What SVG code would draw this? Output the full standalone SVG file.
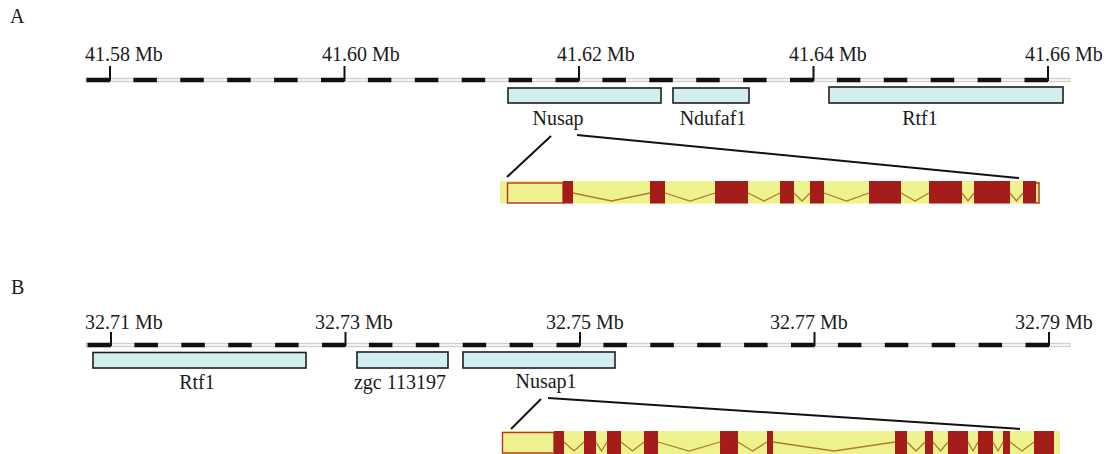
<svg xmlns="http://www.w3.org/2000/svg" width="1110" height="454" viewBox="0 0 1110 454">
<style>
text{font-family:"Liberation Serif","Times New Roman",serif;font-size:20px;fill:#1a1a1a}
.mid{text-anchor:middle}
.track{fill:#f4f4ea;stroke:#bdbdbd;stroke-width:0.8}
.dash{stroke:#111;stroke-width:4.5;stroke-dasharray:23.5 23.4;fill:none}
.tick{stroke:#111;stroke-width:2}
.gene{fill:#d2eef0;stroke:#1f1f1f;stroke-width:1.6}
.zoom{stroke:#111;stroke-width:2;fill:none}
.band{fill:#eef28e}
.exon{fill:#a51d1a}
.utr{fill:none;stroke:#b8321f;stroke-width:1.4}
.intron{fill:none;stroke:#b07a2a;stroke-width:1.3}
</style>
<text x="10" y="23">A</text>
<text x="11" y="294">B</text>
<g id="axisA">
<rect class="track" x="86" y="78.3" width="984" height="3.4"/>
<line class="dash" x1="86.5" y1="80" x2="1048" y2="80"/>
<line class="tick" x1="110" y1="66" x2="110" y2="81"/>
<line class="tick" x1="344.5" y1="66" x2="344.5" y2="81"/>
<line class="tick" x1="579" y1="66" x2="579" y2="81"/>
<line class="tick" x1="813.5" y1="66" x2="813.5" y2="81"/>
<line class="tick" x1="1048" y1="66" x2="1048" y2="81"/>
<text x="85" y="61">41.58 Mb</text>
<text x="322" y="61">41.60 Mb</text>
<text x="557" y="61">41.62 Mb</text>
<text x="789" y="61">41.64 Mb</text>
<text x="1025" y="61">41.66 Mb</text>
</g>
<g id="geneA-Nusap"><rect class="gene" x="508" y="88" width="153" height="15"/><text class="mid" x="558" y="125">Nusap</text></g>
<g id="geneA-Ndufaf1"><rect class="gene" x="673" y="88" width="76" height="15"/><text class="mid" x="713" y="125">Ndufaf1</text></g>
<g id="geneA-Rtf1"><rect class="gene" x="829" y="87" width="234" height="16"/><text class="mid" x="920" y="125">Rtf1</text></g>
<g id="modelA">
<rect class="band" x="500" y="181" width="540" height="22.5"/>
<rect class="utr" x="507.5" y="183" width="55.5" height="20"/>
<g class="exon">
<rect x="563" y="181" width="10" height="22.5"/>
<rect x="650" y="181" width="15" height="22.5"/>
<rect x="715" y="181" width="33" height="22.5"/>
<rect x="780" y="181" width="14" height="22.5"/>
<rect x="810" y="181" width="14" height="22.5"/>
<rect x="869" y="181" width="32" height="22.5"/>
<rect x="929" y="181" width="33" height="22.5"/>
<rect x="974" y="181" width="36" height="22.5"/>
<rect x="1023" y="181" width="13" height="22.5"/>
</g>
<path class="utr" d="M1036,183 H1039 V203 H1036"/>
<path class="intron" d="M573,193 L611.5,201 L650,193 M665,193 L690,201 L715,193 M748,193 L764,201 L780,193 M794,193 L802,201 L810,193 M824,193 L846.5,201 L869,193 M901,193 L915,201 L929,193 M962,193 L968,201 L974,193 M1010,193 L1016.5,201 L1023,193"/>
</g>
<g id="axisB">
<rect class="track" x="86" y="343.3" width="984" height="3.4"/>
<line class="dash" x1="87.5" y1="345" x2="1049" y2="345"/>
<line class="tick" x1="111" y1="332" x2="111" y2="346"/>
<line class="tick" x1="345.5" y1="332" x2="345.5" y2="346"/>
<line class="tick" x1="580" y1="332" x2="580" y2="346"/>
<line class="tick" x1="814.5" y1="332" x2="814.5" y2="346"/>
<line class="tick" x1="1049" y1="332" x2="1049" y2="346"/>
<text x="85" y="329">32.71 Mb</text>
<text x="315" y="329">32.73 Mb</text>
<text x="546" y="329">32.75 Mb</text>
<text x="770" y="329">32.77 Mb</text>
<text x="1015" y="329">32.79 Mb</text>
</g>
<g id="geneB-Rtf1"><rect class="gene" x="93" y="352.5" width="213" height="15.5"/><text class="mid" x="197" y="389">Rtf1</text></g>
<g id="geneB-zgc113197"><rect class="gene" x="357" y="352" width="91" height="16"/><text class="mid" x="400" y="389">zgc 113197</text></g>
<g id="geneB-Nusap1"><rect class="gene" x="463" y="352" width="152" height="16"/><text class="mid" x="546" y="388">Nusap1</text></g>
<g id="modelB">
<rect class="band" x="502" y="431" width="558" height="24"/>
<rect class="utr" x="502.5" y="432.5" width="51.5" height="20.5"/>
<g class="exon">
<rect x="554" y="431" width="10" height="24"/>
<rect x="584" y="431" width="12" height="24"/>
<rect x="607" y="431" width="14" height="24"/>
<rect x="644" y="431" width="14" height="24"/>
<rect x="720" y="431" width="18" height="24"/>
<rect x="767" y="431" width="6" height="24"/>
<rect x="895" y="431" width="12" height="24"/>
<rect x="925" y="431" width="8" height="24"/>
<rect x="948" y="431" width="20" height="24"/>
<rect x="978" y="431" width="15" height="24"/>
<rect x="1003" y="431" width="7" height="24"/>
<rect x="1034" y="431" width="20" height="24"/>
</g>
<path class="intron" d="M564,442 L574,451 L584,442 M596,442 L601.5,451 L607,442 M621,442 L632.5,451 L644,442 M658,442 L689,451 L720,442 M738,442 L752.5,451 L767,442 M773,442 L834,451 L895,442 M907,442 L916,451 L925,442 M933,442 L940.5,451 L948,442 M968,442 L973,451 L978,442 M993,442 L998,451 L1003,442 M1010,442 L1022,451 L1034,442"/>
</g>
<g id="connectors">
<line class="zoom" x1="551" y1="136" x2="507" y2="177"/>
<line class="zoom" x1="577" y1="135" x2="1019" y2="178"/>
<line class="zoom" x1="541" y1="399" x2="511" y2="429"/>
<line class="zoom" x1="548" y1="398" x2="1020" y2="429"/>
</g>
</svg>
